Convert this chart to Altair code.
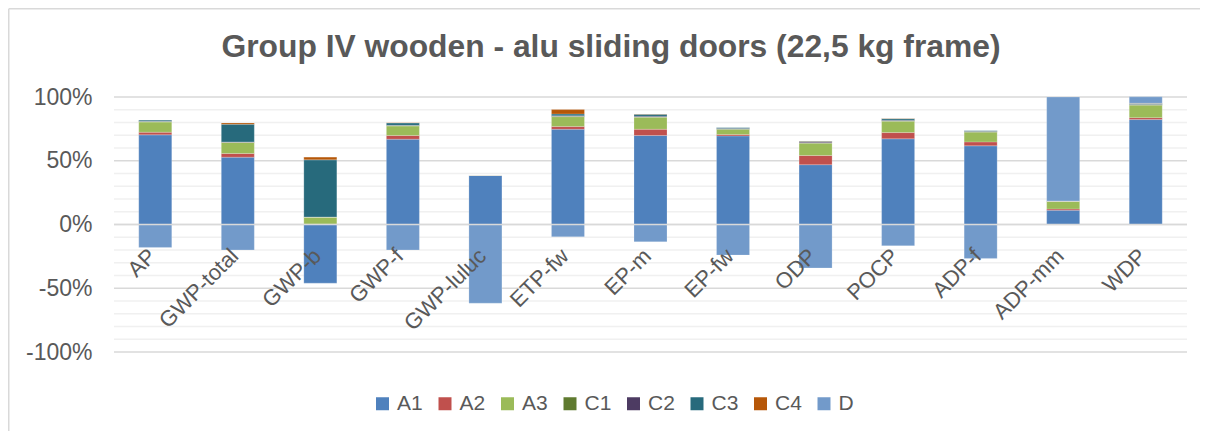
import altair as alt
import pandas as pd

title_text = "Group IV wooden - alu sliding doors (22,5 kg frame)"
categories = ["AP", "GWP-total", "GWP-b", "GWP-f", "GWP-luluc", "ETP-fw", "EP-m",
              "EP-fw", "ODP", "POCP", "ADP-f", "ADP-mm", "WDP"]
series = ["A1", "A2", "A3", "C1", "C2", "C3", "C4", "D"]
colors = ["#4F81BD", "#C0504D", "#9BBB59", "#5F7A2F", "#4D3B62", "#276A7C", "#B65708", "#729ACA"]

A1 = [70.3, 52.8, -46.0, 66.9, 38.4, 74.7, 69.8, 69.5, 46.9, 67.2, 61.7, 11.2, 82.3]
A2 = [2.1, 2.9, 0.3, 2.9, 0.3, 2.1, 4.9, 1.0, 7.2, 4.9, 3.1, 1.0, 1.5]
A3 = [8.0, 8.6, 5.4, 7.5, 0.1, 7.8, 9.4, 4.0, 9.7, 8.9, 7.6, 6.0, 9.7]
C1 = [0.3, 0.3, 0.1, 0.3, 0.0, 0.3, 0.3, 0.5, 0.3, 0.3, 0.5, 0.1, 0.6]
C2 = [0.2, 0.2, 0.1, 0.2, 0.0, 0.3, 0.5, 0.3, 0.7, 0.5, 0.3, 0.1, 0.3]
C3 = [1.0, 13.8, 44.8, 1.9, 0.1, 1.5, 1.5, 0.7, 0.4, 1.2, 0.5, 0.1, 0.6]
C4 = [0.1, 1.1, 2.3, 0.2, 0.0, 3.4, 0.2, 0.1, 0.2, 0.1, 0.1, 0.0, 0.1]
D = [-18.0, -20.0, 0.0, -20.0, -61.7, -9.7, -13.6, -24.0, -34.1, -16.7, -26.6, 81.5, 5.0]

y_ticks = [-100, -50, 0, 50, 100]
minor_grid = [-90, -80, -70, -60, -40, -30, -20, -10, 10, 20, 30, 40, 60, 70, 80, 90]

values = {"A1": A1, "A2": A2, "A3": A3, "C1": C1, "C2": C2, "C3": C3, "C4": C4, "D": D}
rows = []
for si, s in enumerate(series):
    for ci, c in enumerate(categories):
        rows.append({"category": c, "series": s, "value": values[s][ci], "order": si})
df = pd.DataFrame(rows)

W, H = 1073, 255
FONT = "Liberation Sans"
TXT = "#595959"

xscale = alt.Scale(domain=categories, paddingInner=0.6, paddingOuter=0.3)
yscale = alt.Scale(domain=[-100, 100], nice=False)
yaxis = alt.Axis(values=y_ticks, labelExpr="datum.value + '%'", title=None,
                 domain=False, ticks=False, grid=False, labelPadding=22,
                 labelFontSize=23, labelColor=TXT, labelFont=FONT)

minor = alt.Chart(pd.DataFrame({"v": minor_grid})).mark_rule(
    color="#F0F0F0", strokeWidth=1.3).encode(y=alt.Y("v:Q", scale=yscale, axis=yaxis))
major = alt.Chart(pd.DataFrame({"v": y_ticks})).mark_rule(
    color="#D9D9D9", strokeWidth=1.3).encode(y=alt.Y("v:Q", scale=yscale, axis=yaxis))

bars = alt.Chart(df).mark_bar(stroke="white", strokeWidth=0.6, strokeOpacity=0.35).encode(
    x=alt.X("category:N", scale=xscale, axis=None),
    y=alt.Y("value:Q", stack="zero", scale=yscale, axis=yaxis),
    color=alt.Color("series:N", scale=alt.Scale(domain=series, range=colors),
                    legend=alt.Legend(orient="none", legendX=258, legendY=296,
                                      direction="horizontal", columns=8, title=None,
                                      symbolType="square", symbolSize=169,
                                      symbolStrokeWidth=0, symbolOpacity=1,
                                      labelFontSize=21, labelColor=TXT, labelFont=FONT,
                                      labelOffset=4, columnPadding=11.5, padding=0)),
    order=alt.Order("order:Q"),
)

zero = alt.Chart(pd.DataFrame({"v": [0]})).mark_rule(
    color="#D9D9D9", strokeWidth=1.5).encode(y=alt.Y("v:Q", scale=yscale, axis=yaxis))

labels = alt.Chart(pd.DataFrame({"category": categories})).mark_text(
    angle=315, align="right", baseline="alphabetic", fontSize=22, font=FONT, color=TXT,
    xOffset=2, yOffset=33).encode(
    x=alt.X("category:N", scale=xscale, axis=None),
    y=alt.YDatum(0, scale=yscale, axis=yaxis),
    text="category:N",
)

title = alt.Chart(pd.DataFrame({"t": [title_text]})).mark_text(
    align="center", baseline="alphabetic", fontSize=31.8, font=FONT, fontWeight="bold",
    color=TXT).encode(x=alt.value(497), y=alt.value(-40), text="t:N")

border_left = alt.Chart(pd.DataFrame({"v": [0]})).mark_rule(
    color="#D9D9D9", strokeWidth=1.5).encode(
    x=alt.value(-105.25), y=alt.value(-88.25), y2=alt.value(360))
border_top = alt.Chart(pd.DataFrame({"v": [0]})).mark_rule(
    color="#D9D9D9", strokeWidth=1.5).encode(
    x=alt.value(-105.25), x2=alt.value(1100), y=alt.value(-88.25))

chart = alt.layer(minor, major, bars, zero, labels, title, border_left, border_top).properties(
    width=W, height=H,
    autosize=alt.AutoSizeParams(type="none"),
    padding={"left": 106, "top": 89, "right": 13, "bottom": 79},
).configure(background="white").configure_view(stroke=None)

chart.save("out.html", embed_options={"renderer": "svg", "actions": False})
